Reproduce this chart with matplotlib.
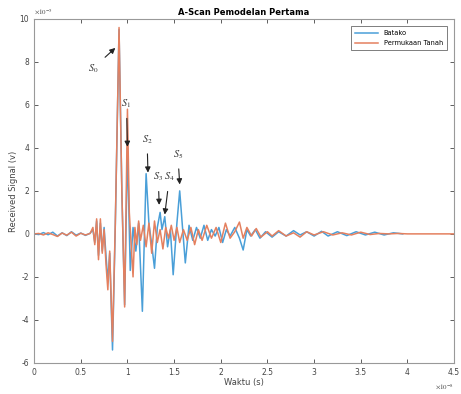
import matplotlib
matplotlib.use("Agg")
import matplotlib.pyplot as plt
from matplotlib.ticker import MultipleLocator, FuncFormatter

# time in units of 1e-8 s, signal in units of 1e-5 V
t_batako = [0, 0.05, 0.1, 0.15, 0.2, 0.25, 0.3, 0.35, 0.4, 0.45, 0.5, 0.55, 0.6,
            0.63, 0.65, 0.67, 0.69, 0.71, 0.73, 0.75, 0.77, 0.79, 0.81, 0.84, 0.87,
            0.91, 0.94, 0.97, 1.0, 1.03, 1.06, 1.09, 1.12, 1.16, 1.2, 1.23, 1.26,
            1.29, 1.32, 1.35, 1.37, 1.4, 1.43, 1.46, 1.49, 1.53, 1.56, 1.59, 1.62,
            1.66, 1.7, 1.74, 1.78, 1.82, 1.86, 1.9, 1.94, 1.98, 2.02, 2.06, 2.1,
            2.15, 2.2, 2.24, 2.28, 2.32, 2.37, 2.42, 2.48, 2.55, 2.62, 2.7, 2.78,
            2.85, 2.92, 3.0, 3.08, 3.15, 3.25, 3.35, 3.45, 3.55, 3.65, 3.75, 3.85,
            3.95]
v_batako = [0, -0.03, 0.06, -0.04, 0.08, -0.1, 0.05, -0.08, 0.1, -0.06, 0.04, -0.07, 0.03,
            0.2, -0.4, 0.6, -1.0, 0.5, -0.8, 0.3, -1.0, -2.2, -0.9, -5.4, 0.4,
            9.5, 2.0, -3.3, 4.0, -1.7, 0.3, -0.8, 0.5, -3.6, 2.8, 0.5, -0.5,
            -1.6, 0.3, 1.0, 0.2, 0.8, -0.6, 0.2, -1.9, 0.5, 2.0, 0.3, -1.35,
            0.4, -0.3, 0.3, -0.2, 0.4, -0.3, 0.2, -0.1, 0.3, -0.4, 0.2, -0.1,
            0.3, -0.2, -0.75, 0.2, -0.1, 0.2, -0.2, 0.1, -0.15, 0.1, -0.1, 0.15,
            -0.05, 0.1, -0.1, 0.12, -0.1, 0.1, -0.08, 0.1, -0.05, 0.08, -0.05, 0.05,
            0.0]

t_tanah = [0, 0.05, 0.1, 0.15, 0.2, 0.25, 0.3, 0.35, 0.4, 0.45, 0.5, 0.55, 0.6,
           0.63, 0.65, 0.67, 0.69, 0.71, 0.73, 0.75, 0.77, 0.79, 0.81, 0.84, 0.87,
           0.91, 0.94, 0.97, 1.0, 1.02, 1.04, 1.06, 1.08, 1.1, 1.12, 1.14, 1.17,
           1.2, 1.23, 1.26, 1.29, 1.32, 1.35, 1.38, 1.41, 1.44, 1.47, 1.5, 1.53,
           1.56, 1.6, 1.64, 1.68, 1.72, 1.76, 1.8, 1.85, 1.9, 1.95, 2.0, 2.05,
           2.1, 2.15, 2.2, 2.24, 2.28, 2.33, 2.38, 2.43, 2.5, 2.55, 2.62, 2.7,
           2.78, 2.85, 2.92, 3.0, 3.1, 3.2, 3.3, 3.4, 3.5, 3.6, 3.7, 3.8, 3.9,
           4.0, 4.5]
v_tanah = [0, 0.02, -0.05, 0.05, -0.03, -0.12, 0.04, -0.06, 0.08, -0.1, 0.03, -0.05, 0.02,
           0.3, -0.5, 0.7, -1.2, 0.7, -0.9, 0.2, -1.4, -2.6, -0.8, -5.0, 0.5,
           9.6, 2.0, -3.4, 5.8, 1.0, -0.5, -2.0, 0.3, -0.5, 0.6, -0.3, 0.4,
           -0.6, 0.5, -0.9, 0.6, -0.4, 0.2, -0.7, 0.3, -0.2, 0.4, -0.3, 0.3,
           -0.4, 0.2, -0.3, 0.3, -0.5, 0.2, -0.3, 0.4, -0.2, 0.3, -0.4, 0.5,
           -0.2, 0.1, 0.55, -0.2, 0.3, -0.1, 0.25, -0.15, 0.1, -0.1, 0.15, -0.1,
           0.05, -0.15, 0.1, -0.05, 0.1, -0.05, 0.05, -0.05, 0.08, -0.03, 0.02, 0.0, 0.02,
           0.0, 0.0]

# annotations: label, arrow tip (t, v), text position (t, v)
ann_labels = ['$S_0$', '$S_1$', '$S_2$', '$S_3$', '$S_4$', '$S_5$']
ann_tip = [(0.87, 8.65), (1.0, 4.05), (1.22, 2.85), (1.34, 1.35), (1.40, 0.9), (1.56, 2.3)]
ann_text = [(0.63, 7.7), (0.99, 6.05), (1.21, 4.4), (1.33, 2.65), (1.45, 2.65), (1.54, 3.7)]

plt.rcParams['font.family'] = ['DejaVu Sans']
plt.rcParams['mathtext.fontset'] = 'stix'

fig = plt.figure(figsize=(4.61, 3.94), dpi=100)
ax = fig.add_axes([0.074, 0.079, 0.911, 0.873])

ax.plot(t_batako, v_batako, color='#4a9fd8', lw=1.1, label='Batako')
ax.plot(t_tanah, v_tanah, color='#e4805f', lw=1.1, label='Permukaan Tanah')

for lab, tip, txt in zip(ann_labels, ann_tip, ann_text):
    ax.annotate(lab, xy=tip, xytext=txt,
                fontsize=7.5, ha='center', va='center', color='#333333',
                arrowprops=dict(arrowstyle='-|>', color='#222222', lw=0.8,
                                mutation_scale=8, shrinkA=4, shrinkB=0))

ax.set_xlim(0, 4.5)
ax.set_ylim(-6, 10)
ax.xaxis.set_major_locator(MultipleLocator(0.5))
ax.yaxis.set_major_locator(MultipleLocator(2))
ax.xaxis.set_major_formatter(FuncFormatter(lambda v, p: '%g' % v))
ax.yaxis.set_major_formatter(FuncFormatter(lambda v, p: '%g' % v))

ax.text(0.0, 1.005, r'$\times10^{-5}$', transform=ax.transAxes, fontsize=5,
        color='#444444', ha='left', va='bottom')
ax.text(1.0, -0.055, r'$\times10^{-8}$', transform=ax.transAxes, fontsize=5,
        color='#444444', ha='right', va='top')

ax.tick_params(direction='in', top=True, right=True, labelsize=5.5,
               colors='#444444', length=3, width=0.6)
for sp in ax.spines.values():
    sp.set_color('#999999')
    sp.set_linewidth(0.8)

ax.set_title('A-Scan Pemodelan Pertama', fontsize=6, fontweight='bold', pad=3)
ax.set_xlabel('Waktu (s)', fontsize=6, color='#444444', labelpad=1)
ax.set_ylabel('Received Signal (v)', fontsize=6, color='#444444', labelpad=1)

leg = ax.legend(loc='upper right', fontsize=4.8, frameon=True, fancybox=False,
                edgecolor='#444444', handlelength=3.5, borderpad=0.6,
                labelspacing=0.6, borderaxespad=1.1)
leg.get_frame().set_linewidth(0.6)

fig.savefig('out.png', dpi=100)
